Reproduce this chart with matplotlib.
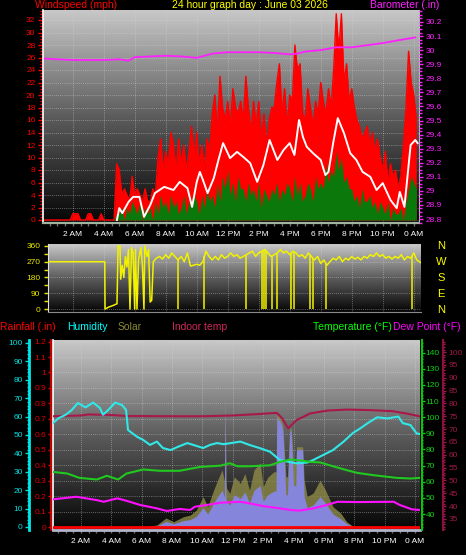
import numpy as np
import matplotlib
matplotlib.use('Agg')
import matplotlib.pyplot as plt
from matplotlib.colors import LinearSegmentedColormap
from matplotlib.ticker import MultipleLocator, FixedLocator, FuncFormatter

plt.rcParams['font.family'] = ['Liberation Sans', 'DejaVu Sans']

# ---------------- data ----------------
# wind (10-minute samples from midnight)
wind_hours = np.arange(146) / 6.0
gust = [0, 0, 0, 0, 0, 0,
        0, 0, 0, 0, 0, 0,
        1, 1, 1, 0, 0, 0,
        1, 1, 0, 0, 0, 1,
        0, 0, 0, 0, 0, 9,
        8, 4, 5, 4, 3, 7,
        4, 5, 4, 3, 5, 3,
        3, 5, 4, 10, 13, 8,
        11, 9, 14, 12, 8, 13,
        9, 12, 8, 11, 15, 10,
        14, 9, 12, 8, 13, 11,
        17, 20, 14, 23, 18, 16,
        19, 15, 21, 18, 17, 19,
        16, 23, 18, 14, 19, 15,
        19, 13, 17, 12, 16, 18,
        18, 22, 25, 17, 21, 15,
        20, 19, 28, 24, 25, 17,
        16, 21, 18, 15, 19, 17,
        22, 19, 17, 21, 18, 24,
        33, 27, 33, 22, 25, 19,
        21, 18, 16, 15, 13, 14,
        15, 12, 14, 11, 13, 10,
        8, 11, 6, 9, 7, 8,
        5, 7, 12, 18, 27, 22,
        20, 16]
speed = [0] * 24 + [0, 0, 0, 0, 0, 1,
         1, 2, 0, 2, 1, 3,
         2, 1, 3, 0, 2, 1,
         2, 0, 3, 1, 4, 2,
         3, 1, 4, 2, 3, 1,
         2, 4, 1, 3, 2, 4,
         3, 1, 4, 2, 5, 3,
         4, 2, 6, 3, 7, 5,
         8, 4, 6, 3, 7, 5,
         5, 3, 6, 4, 5, 3,
         6, 2, 5, 4, 3, 5,
         4, 6, 3, 5, 4, 6,
         5, 3, 7, 4, 6, 3,
         4, 6, 5, 3, 7, 5,
         6, 5, 9, 6, 8, 7,
         11, 8, 10, 6, 7, 5,
         5, 3, 4, 2, 5, 3,
         3, 4, 2, 3, 1, 3,
         2, 1, 3, 0, 2, 1,
         1, 2, 0, 3, 5, 7,
         6, 5]
avg_t = [4.85, 5.0, 5.2, 5.6, 5.9, 6.3, 6.6, 7.0, 7.3, 7.9, 8.5, 8.9, 9.4, 9.7, 10.0,
         10.2, 10.4, 10.7, 11.1, 11.4, 11.7, 12.15, 12.6, 13.0, 13.45, 13.9, 14.3, 14.7,
         15.2, 15.6, 16.0, 16.3, 16.6, 16.85, 17.1, 17.5, 18.0, 18.3, 18.5, 18.8, 19.1,
         19.5, 19.9, 20.3, 20.7, 21.2, 21.6, 22.0, 22.5, 22.9, 23.1, 23.4, 23.8, 24.1, 24.25]
avg_speed = [0, 1.9, 1.1, 2.9, 3.7, 3.7, 0.5, 2.4, 4.3, 5.3, 4.8, 6.1, 5.1, 2.1, 6.1,
             7.7, 6.4, 4.3, 6.7, 9.6, 12.3, 9.9, 10.9, 10.1, 9.1, 6.1, 8.8, 12.8,
             9.6, 11.2, 12.3, 10.4, 16.0, 13.3, 11.7, 10.7, 9.6, 7.2, 7.7, 12.3, 16.3,
             13.9, 10.7, 9.6, 7.7, 6.9, 4.8, 5.9, 3.2, 1.9, 4.5, 2.1, 12.0, 12.8, 12.3]

baro_t = [0.2, 1, 2, 3, 4, 5, 5.6, 6, 7, 8, 9, 10, 10.5, 11, 12, 13, 14, 15, 16, 16.5,
          17, 18, 19, 20, 21, 22, 23, 24.1]
baro = [29.94, 29.935, 29.93, 29.93, 29.93, 29.935, 29.925, 29.95, 29.955, 29.96, 29.955,
        29.945, 29.96, 29.975, 29.985, 29.985, 29.985, 29.98, 29.97, 29.975, 29.99, 30.0,
        30.02, 30.02, 30.035, 30.05, 30.07, 30.09]

# wind direction
dir_t = [0.5, 4.07, 4.09, 4.3, 4.6, 4.86, 4.93, 5.05, 5.1, 5.2, 5.3, 5.4, 5.5, 5.6, 5.7,
         5.8, 5.9, 6.0, 6.05, 6.15, 6.25, 6.4, 6.5, 6.6, 6.65, 6.8, 6.9, 7.0, 7.1, 7.2] + \
        list(np.round(np.arange(7.4, 24.05, 0.2), 2)) + [24.2, 24.45]
dir_deg = [270, 270, 0, 10, 20, 30, 360, 360, 170, 250, 180, 300, 240, 340, 0,
           350, 320, 0, 340, 0, 280, 350, 250, 0, 360, 300, 340, 40, 50, 270,
           290, 300, 285, 310, 290, 320,
           300, 280, 300, 270, 320, 245,
           250, 255, 250, 270, 330, 300,
           280, 300, 280, 310, 290, 300,
           320, 300, 310, 290, 300, 310,
           320, 330, 300, 320, 330, 340,
           320, 300, 310, 320, 340, 320,
           330, 310, 330, 320, 300, 310,
           290, 320, 300, 280, 300, 260,
           280, 250, 270, 290, 280, 300,
           270, 290, 280, 300, 285, 295,
           280, 300, 290, 310, 300, 320,
           300, 310, 290, 300, 285, 300,
           290, 310, 280, 300, 290, 320,
           280, 265]
dir_north_t = [8.8, 10.5, 13.2, 14.2, 14.35, 14.5, 14.85, 15.15, 16.1, 16.3, 17.3, 17.5,
               18.35, 23.9]

# lower panel
hum_t = [0.16, 0.5, 1.0, 1.4, 1.8, 2.3, 2.8, 3.25, 3.45, 3.8, 4.25, 4.7, 4.97, 5.1, 5.7,
         6.1, 6.55, 7.0, 7.4, 7.9, 8.4, 9.0, 9.4, 10.05, 10.5, 10.96, 11.4, 11.8, 12.5,
         13.1, 13.8, 14.45, 15.1, 15.6, 16.2, 16.9, 17.3, 17.95, 18.6, 19.3, 19.9, 20.4,
         20.9, 21.5, 22.2, 22.9, 23.2, 23.7, 24.1, 24.3]
humidity = [56.4, 59, 61, 63.6, 67.4, 65, 67.6, 64.7, 61, 63.6, 67.6, 66.3, 63.6, 52.7, 49,
            47.3, 44.6, 46.4, 42.9, 41.8, 43.6, 45.6, 44.6, 42.9, 44.6, 45.6, 45, 45.5, 46.4,
            44.6, 42.8, 40.9, 36.4, 35.5, 34.6, 35, 36.4, 39.1, 41.8, 46.4, 51, 53.6,
            56.5, 59.6, 59, 60, 56.4, 55.4, 50.9, 50.5]
temp_t = [0.16, 1.1, 1.9, 3.05, 3.7, 4.45, 5.0, 6.1, 7.2, 8.5, 9.85, 11.2, 11.8, 12.3, 13.1,
          14.45, 15.1, 15.8, 16.4, 17.1, 17.75, 18.6, 19.5, 20.2, 21.25, 22.8, 23.7, 24.3]
temperature = [66.1, 65.1, 62.4, 61.4, 63.7, 61.4, 65.1, 67.6, 66.8, 66.8, 69.2, 70.0, 71.5,
               69.6, 69.6, 70.2, 72.3, 73.8, 73.3, 72.3, 72.0, 69.6, 67.2, 65.5, 64.1, 62.4,
               62.0, 62.4]
dew_t = [0.16, 1.7, 3.05, 3.5, 4.4, 5.0, 5.9, 7.0, 7.65, 8.5, 9.2, 9.5, 10.3, 11.2, 12.5,
         13.1, 14.0, 15.1, 15.8, 16.4, 17.3, 18.2, 18.9, 20.2, 22.6, 23.0, 23.8, 24.3]
dew_point = [49.1, 50.7, 48.6, 47.6, 49.7, 48.2, 45.6, 43.5, 41.9, 43.1, 42.5, 44.5, 45.6, 47,
             47.6, 46.6, 44.9, 43.5, 42.5, 42.1, 43.5, 45.6, 47.6, 47.4, 47.6, 45.6, 42.9, 42.5]
indoor_t = [0.16, 2.0, 2.5, 4.0, 5.0, 8.0, 10.0, 12.0, 13.5, 14.9, 15.25, 15.65, 16.2, 17.1,
            18.2, 19.5, 21.0, 22.5, 23.5, 24.3]
indoor = [75.0, 75.3, 75.7, 75.5, 75.1, 75.0, 75.0, 75.3, 75.8, 76.3, 74.2, 70.3, 73.5, 76.1,
          77.2, 77.6, 77.4, 77.0, 76.0, 75.0]
solar_t = [6.1, 7.0, 7.3, 7.6, 8.1, 8.75, 9.2, 9.6, 10.05, 10.35,
           10.7, 11.0, 11.3, 11.45, 11.5, 11.55, 11.6, 11.8, 12.1, 12.5,
           12.8, 13.1, 13.4, 13.8, 14.0, 14.3, 14.7, 14.85, 14.9, 15.2,
           15.3, 15.5, 15.6, 15.75, 15.85, 16.0, 16.15, 16.2, 16.6, 16.7,
           16.9, 17.3, 17.75, 18.1, 18.6, 19.1, 19.5, 19.95, 20.2]
solar_max = [0, 11, 30, 49, 29, 56, 65, 92, 165, 110,
             192, 255, 310, 250, 755, 250, 210, 183, 273, 237,
             290, 200, 310, 348, 219, 270, 300, 300, 620, 580,
             545, 273, 273, 538, 538, 348, 348, 436, 436, 255,
             165, 185, 255, 201, 110, 76, 29, 2, 0]
solar = [0, 6, 18, 30, 18, 35, 40, 58, 105, 70,
         125, 165, 200, 160, 720, 160, 135, 120, 175, 155,
         190, 130, 200, 225, 140, 175, 195, 195, 600, 560,
         520, 175, 175, 520, 520, 225, 225, 420, 420, 165,
         105, 120, 165, 130, 70, 45, 18, 1, 0]
rain_t = [0.16, 24.33]
rain = [0.0, 0.0]

time_ticks = list(range(2, 25, 2))
time_labels = ['2 AM', '4 AM', '6 AM', '8 AM', '10 AM', '12 PM', '2 PM', '4 PM', '6 PM',
               '8 PM', '10 PM', '0 AM']

# ---------------- figure ----------------
W, H = 466, 555
fig = plt.figure(figsize=(W / 100, H / 100), dpi=100)
fig.patch.set_facecolor('black')


def rect(x0, y0, x1, y1):
    return [x0 / W, 1 - y1 / H, (x1 - x0) / W, (y1 - y0) / H]


bg_cmap = LinearSegmentedColormap.from_list('bg', ['#050505', '#5c5c5c', '#c8c8c8'])


def add_bg(r):
    bg = fig.add_axes(r, zorder=0)
    bg.imshow(np.linspace(1, 0, 256).reshape(-1, 1), aspect='auto', cmap=bg_cmap,
              extent=[0, 1, 0, 1], interpolation='bilinear')
    bg.set_axis_off()


GRID = dict(color='#d8d8d8', lw=0.6, linestyle=(0, (1, 1.5)), alpha=0.55)
fmt = FuncFormatter(lambda v, p: f'{v:g}')
TS = 6

# ---- top panel: wind + barometer ----
r1 = rect(43, 10, 419, 223)
add_bg(r1)
ax1 = fig.add_axes(r1, zorder=1)
ax1.set_facecolor('none')
ax1.fill_between(wind_hours, 0, gust, color='#ff0000', lw=0, zorder=2)
ax1.plot(wind_hours, gust, color='#ff0000', lw=1.0, zorder=2)
ax1.fill_between(wind_hours, 0, speed, color='#0a780a', lw=0, zorder=3)
ax1.plot(avg_t, avg_speed, color='white', lw=1.4, zorder=4)
ax1.set_xlim(0.08, 24.34)
ax1.set_ylim(-0.48, 33.6)
ax1.yaxis.set_major_locator(MultipleLocator(2))
ax1.yaxis.set_minor_locator(MultipleLocator(0.5))
ax1.xaxis.set_major_locator(FixedLocator(time_ticks))
ax1.xaxis.set_minor_locator(MultipleLocator(0.5))
ax1.set_xticklabels(time_labels)
ax1.tick_params(axis='y', which='both', colors='#ff0000', labelsize=TS, length=3.5, width=1, pad=2)
ax1.tick_params(axis='y', which='minor', length=2)
ax1.tick_params(axis='x', which='both', colors='#6e6e6e', labelcolor='white', labelsize=TS,
                length=2.5, width=1, pad=3)
ax1.grid(True, which='major', **GRID)
ax1.spines['top'].set_visible(False)
ax1.spines['left'].set_color('white')
ax1.spines['left'].set_linewidth(1.2)
ax1.spines['bottom'].set_color('#a0b4a0')
ax1.spines['bottom'].set_linewidth(1.6)
ax1.spines['right'].set_color('#bdbdbd')

ax1b = ax1.twinx()
ax1b.plot(baro_t, baro, color='#ff20ff', lw=1.3, zorder=5)
ax1b.set_ylim(28.772, 30.285)
ax1b.yaxis.set_major_locator(MultipleLocator(0.1))
ax1b.yaxis.set_minor_locator(MultipleLocator(0.025))
ax1b.yaxis.set_major_formatter(fmt)
ax1b.tick_params(axis='y', which='both', colors='#ff20ff', labelsize=TS, length=3, width=1, pad=2)
ax1b.tick_params(axis='y', which='minor', length=2)
for s in ['top', 'left', 'bottom', 'right']:
    ax1b.spines[s].set_visible(False)

# ---- wind direction panel ----
r2 = rect(48, 244, 421, 312)
add_bg(r2)
ax2 = fig.add_axes(r2, zorder=1)
ax2.set_facecolor('none')
ax2.plot(dir_t, dir_deg, color='#f2f200', lw=1.1, zorder=3)
ax2.vlines(dir_north_t, 0, np.interp(dir_north_t, dir_t, dir_deg), color='#f2f200', lw=1.1, zorder=3)
ax2.set_xlim(0.41, 24.47)
ax2.set_ylim(-17, 371)
ax2.yaxis.set_major_locator(FixedLocator([0, 90, 180, 270, 360]))
ax2.yaxis.set_minor_locator(MultipleLocator(45))
ax2.xaxis.set_major_locator(FixedLocator(time_ticks))
ax2.tick_params(axis='x', which='both', length=0, labelbottom=False)
ax2.tick_params(axis='y', which='both', colors='#e6e600', labelsize=TS, length=3, width=1, pad=2.5)
ax2.grid(True, which='major', **GRID)
ax2.spines['top'].set_visible(False)
ax2.spines['right'].set_visible(False)
ax2.spines['left'].set_color('#e0e0e0')
ax2.spines['bottom'].set_color('#8a8a8a')

for lab, yy in zip(['N', 'W', 'S', 'E', 'N'], [246, 262, 278, 294, 310]):
    fig.text(441 / W, 1 - yy / H, lab, color='#ffff00', fontsize=8, ha='center', va='center')

# ---- lower panel ----
r3 = rect(53, 340, 420, 530)
add_bg(r3)
axb = fig.add_axes(r3, zorder=1)
axb.set_facecolor('none')
axb.set_xlim(0.16, 24.33)
axb.set_ylim(-0.0194, 1.21)
axb.yaxis.set_major_locator(MultipleLocator(0.1))
axb.tick_params(axis='y', which='both', length=0, labelleft=False)
axb.xaxis.set_major_locator(FixedLocator(time_ticks))
axb.xaxis.set_minor_locator(MultipleLocator(0.5))
axb.set_xticklabels(time_labels)
axb.tick_params(axis='x', which='both', colors='#6e6e6e', labelcolor='white', labelsize=TS,
                length=2.5, width=1, pad=3)
axb.grid(True, which='major', **GRID)
for s in ['top', 'right']:
    axb.spines[s].set_visible(False)
axb.spines['left'].set_color('white')
axb.spines['left'].set_linewidth(1.2)
axb.spines['bottom'].set_color('#b4b4cc')
axb.spines['bottom'].set_linewidth(2)


def twin(z):
    a = axb.twinx()
    a.set_zorder(z)
    a.patch.set_visible(False)
    for s in ['top', 'left', 'bottom', 'right']:
        a.spines[s].set_visible(False)
    return a


# solar (hidden scale)
axs = twin(2)
axs.fill_between(solar_t, 0, solar_max, color='#8e8b48', alpha=0.8, lw=0)
axs.fill_between(solar_t, 0, solar, color='#8585dc', lw=0)
axs.set_ylim(-16.3, 1016)
axs.set_yticks([])

# indoor temp axis (far right)
axi = twin(3)
axi.plot(indoor_t, indoor, color='#a8184a', lw=1.5)
axi.set_ylim(30.7, 104.7)
axi.spines['right'].set_visible(True)
axi.spines['right'].set_position(('outward', 16.6))
axi.spines['right'].set_color('#8c1040')
axi.spines['right'].set_linewidth(1.5)
axi.yaxis.set_major_locator(MultipleLocator(5))
axi.yaxis.set_minor_locator(MultipleLocator(1))
axi.tick_params(axis='y', which='both', colors='#a01848', labelsize=TS, length=2.5, width=1, pad=1.5)
axi.tick_params(axis='y', which='minor', length=1.2)

# humidity axis (far left)
axh = twin(4)
axh.plot(hum_t, humidity, color='#30e8e8', lw=1.5)
axh.set_ylim(-1.63, 101.6)
axh.yaxis.tick_left()
axh.spines['left'].set_visible(True)
axh.spines['left'].set_position(('outward', 17.3))
axh.spines['left'].set_color('#00e8e8')
axh.spines['left'].set_linewidth(2)
axh.yaxis.set_major_locator(MultipleLocator(10))
axh.yaxis.set_minor_locator(MultipleLocator(2))
axh.tick_params(axis='y', which='both', colors='#00e0e0', labelsize=TS, length=3, width=1, pad=1.5)
axh.tick_params(axis='y', which='minor', length=1.5)

# temperature / dew point axis (right)
axt = twin(5)
axt.plot(temp_t, temperature, color='#20c820', lw=1.5)
axt.plot(dew_t, dew_point, color='#ff10ff', lw=1.5)
axt.set_ylim(30.08, 147.9)
axt.spines['right'].set_visible(True)
axt.spines['right'].set_position(('outward', 1.2))
axt.spines['right'].set_color('#10c010')
axt.spines['right'].set_linewidth(1.5)
axt.yaxis.set_major_locator(FixedLocator(list(range(40, 141, 10))))
axt.yaxis.set_minor_locator(MultipleLocator(2))
axt.tick_params(axis='y', which='both', colors='#10d010', labelsize=TS, length=2, width=1, pad=1)
axt.tick_params(axis='y', which='minor', length=1)

# rainfall axis (left, next to plot) + line
axr = twin(6)
axr.plot(rain_t, rain, color='#ff0000', lw=2)
axr.set_ylim(-0.0194, 1.21)
axr.yaxis.tick_left()
axr.spines['left'].set_visible(True)
axr.spines['left'].set_position(('outward', 1.2))
axr.spines['left'].set_color('#e00000')
axr.spines['left'].set_linewidth(1.2)
axr.yaxis.set_major_locator(MultipleLocator(0.1))
axr.yaxis.set_minor_locator(MultipleLocator(0.02))
axr.yaxis.set_major_formatter(fmt)
axr.tick_params(axis='y', which='both', colors='#e00000', labelsize=TS, length=2, width=1, pad=1.5)
axr.tick_params(axis='y', which='minor', length=1)

# ---- header texts ----
HS = 7.5
ty = 1 - 5.5 / H
fig.text(35 / W, ty, 'Windspeed (mph)', color='#ff0000', fontsize=HS, ha='left', va='center')
fig.text(172 / W, ty, '24 hour graph day : June 03 2026', color='#ffff00', fontsize=HS,
         ha='left', va='center')
fig.text(439 / W, ty, 'Barometer (.in)', color='#ff20ff', fontsize=HS, ha='right', va='center')

by = 1 - 326.5 / H
fig.text(0 / W, by, 'Rainfall (.in)', color='#ff0000', fontsize=HS, ha='left', va='center')
fig.text(67 / W, by, 'Humidity', color='#00ffff', fontsize=HS, ha='left', va='center')
fig.text(118 / W, by, 'Solar', color='#8c8a30', fontsize=HS, ha='left', va='center')
fig.text(172 / W, by, 'Indoor temp', color='#d02858', fontsize=HS, ha='left', va='center')
fig.text(313 / W, by, 'Temperature (°F)', color='#00ff00', fontsize=HS, ha='left', va='center')
fig.text(393 / W, by, 'Dew Point (°F)', color='#ff00ff', fontsize=HS, ha='left', va='center')

fig.savefig('out.png', dpi=100, facecolor='black')
